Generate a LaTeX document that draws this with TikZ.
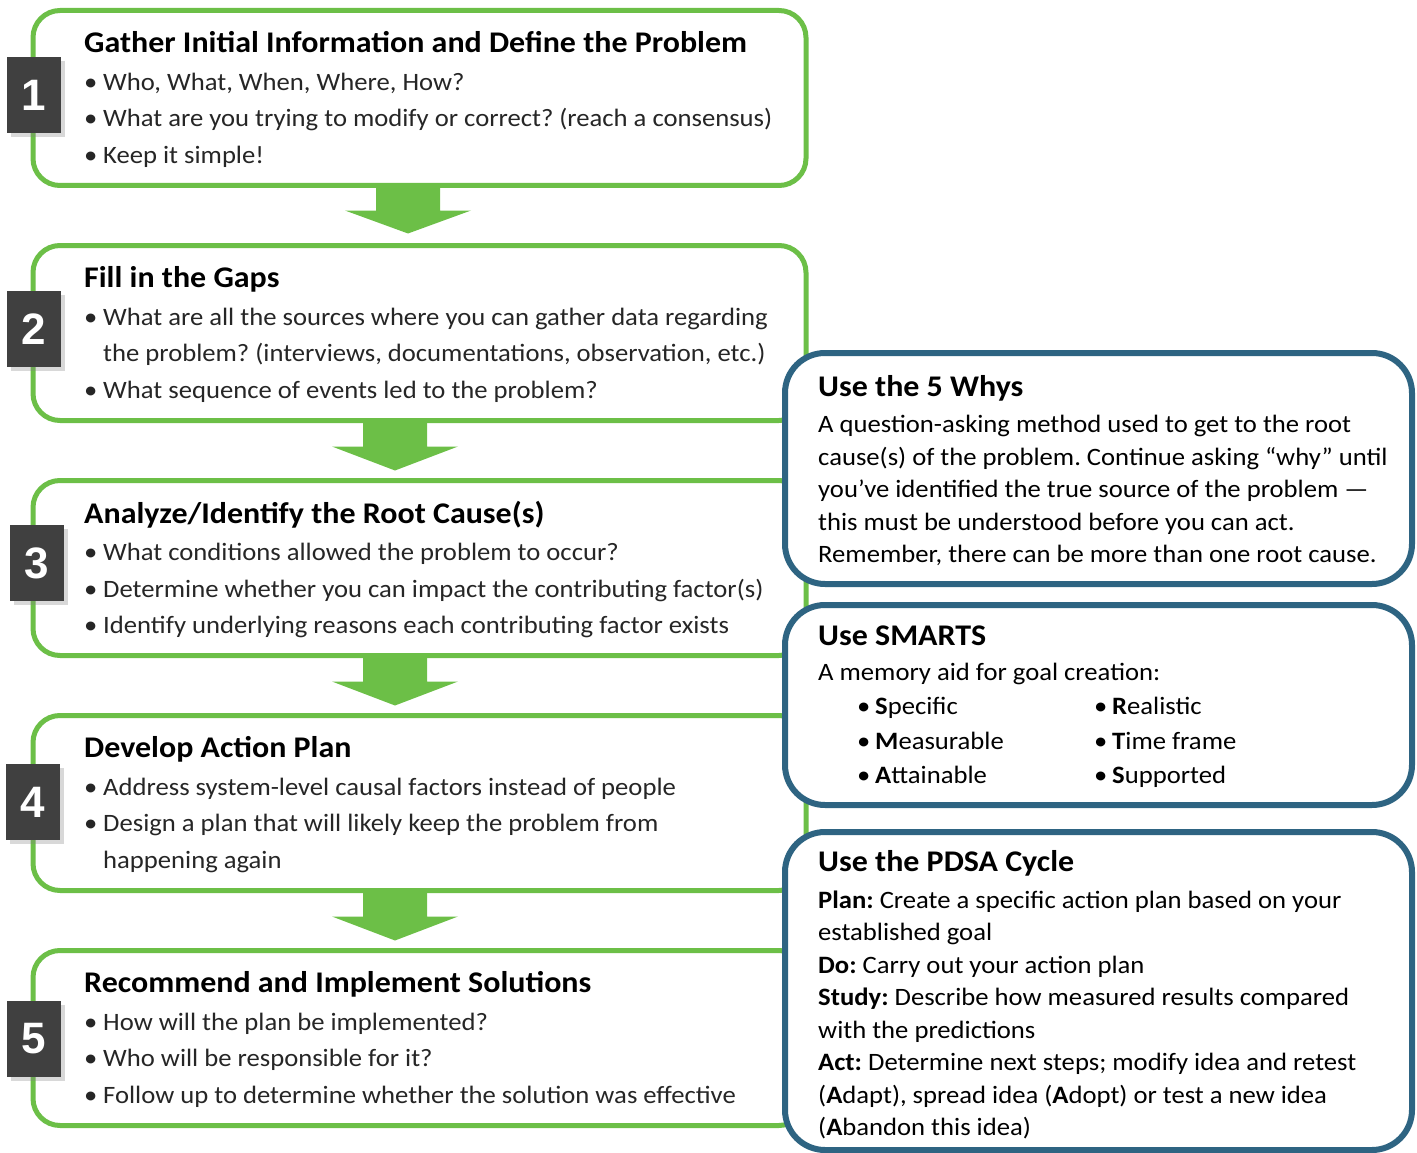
\documentclass[tikz,border=0pt]{standalone}
\usepackage{fontspec}
\setmainfont{Carlito}[FakeStretch=1.066]
\newfontfamily\numfont{Liberation Sans}
\usepackage{tikz}
\usetikzlibrary{positioning,shadows}
\frenchspacing

\definecolor{stepgreen}{HTML}{6CBF47}
\definecolor{tipblue}{HTML}{2E6482}
\definecolor{numgray}{HTML}{404040}
\definecolor{bodygray}{HTML}{262626}

\newcommand{\steptitle}[1]{{\color{black}\bfseries\fontsize{30}{36.5}\selectfont #1}}
\newcommand{\tiptitle}[1]{{\bfseries\fontsize{30}{32.5}\selectfont #1}}
\newcommand{\bul}{\makebox[19pt][l]{\textbullet}}
\newcommand{\sbul}{\makebox[18pt][l]{\textbullet}}

\begin{document}
\begin{tikzpicture}[x=1pt,y=1pt,node distance=235pt,
    step node/.style={draw=stepgreen,line width=5pt,fill=white,rounded corners=27pt,
                      minimum width=773pt,minimum height=175pt,inner sep=0pt,outer sep=0pt},
    num node/.style={fill=numgray,text=white,minimum width=54pt,minimum height=76pt,
                     inner sep=0pt,font=\numfont\bfseries\fontsize{44}{44}\selectfont,
                     drop shadow={shadow xshift=4pt,shadow yshift=-4pt,opacity=0.3}},
    step text/.style={anchor=west,align=left,inner sep=0pt,text=bodygray,
                      font=\fontsize{25}{36.5}\selectfont},
    tip node/.style={draw=tipblue,line width=6pt,fill=white,rounded corners=40pt,
                     minimum width=627pt,inner sep=0pt,outer sep=0pt},
    tip text/.style={anchor=west,align=left,inner sep=0pt,text=black,
                     font=\fontsize{25}{32.5}\selectfont}]

  \useasboundingbox (0,0) rectangle (1417,-1153);

  %Steps%
  \node[step node] (1) at (419.5,-98) {};
  \node[step node] (2) [below of=1] {};
  \node[step node] (3) [below of=2] {};
  \node[step node] (4) [below of=3] {};
  \node[step node] (5) [below of=4] {};

  \node[step text] (t1) at ([xshift=51pt,yshift=-1.5pt]1.west) {\steptitle{Gather Initial Information and Define the Problem}\\[1pt]
    \bul Who, What, When, Where, How?\\
    \bul What are you trying to modify or correct? (reach a consensus)\\
    \bul Keep it simple!};
  \node[step text] (t2) at ([xshift=51pt,yshift=-1.5pt]2.west) {\steptitle{Fill in the Gaps}\\[1pt]
    \bul What are all the sources where you can gather data regarding\\
    \hspace*{19pt}the problem? (interviews, documentations, observation, etc.)\\
    \bul What sequence of events led to the problem?};
  \node[step text] (t3) at ([xshift=51pt,yshift=-1.5pt]3.west) {\steptitle{Analyze/Identify the Root Cause(s)}\\[1pt]
    \bul What conditions allowed the problem to occur?\\
    \bul Determine whether you can impact the contributing factor(s)\\
    \bul Identify underlying reasons each contributing factor exists};
  \node[step text] (t4) at ([xshift=51pt,yshift=-1.5pt]4.west) {\steptitle{Develop Action Plan}\\[1pt]
    \bul Address system-level causal factors instead of people\\
    \bul Design a plan that will likely keep the problem from\\
    \hspace*{19pt}happening again};
  \node[step text] (t5) at ([xshift=51pt,yshift=-1.5pt]5.west) {\steptitle{Recommend and Implement Solutions}\\[1pt]
    \bul How will the plan be implemented?\\
    \bul Who will be responsible for it?\\
    \bul Follow up to determine whether the solution was effective};

  %Arrows%
  \fill[stepgreen] ([xshift=-43.5pt]1.south) -- ++(64,0) -- ++(0,-25) -- ++(31,0)
    -- ++(-63,-23) -- ++(-63,23) -- ++(31,0) -- cycle;
  \fill[stepgreen] ([xshift=-56.5pt]2.south) -- ++(64,0) -- ++(0,-26) -- ++(31,0)
    -- ++(-63,-24) -- ++(-63,24) -- ++(31,0) -- cycle;
  \fill[stepgreen] ([xshift=-56.5pt]3.south) -- ++(64,0) -- ++(0,-26) -- ++(31,0)
    -- ++(-63,-24) -- ++(-63,24) -- ++(31,0) -- cycle;
  \fill[stepgreen] ([xshift=-56.5pt]4.south) -- ++(64,0) -- ++(0,-26) -- ++(31,0)
    -- ++(-63,-24) -- ++(-63,24) -- ++(31,0) -- cycle;

  %Numbers%
  \node[num node] (n1) at ([xshift=1pt,yshift=3pt]1.west) {1};
  \node[num node] (n2) at ([xshift=1pt,yshift=4pt]2.west) {2};
  \node[num node] (n3) at ([xshift=4pt,yshift=5pt]3.west) {3};
  \node[num node] (n4) at ([xshift=0pt,yshift=1pt]4.west) {4};
  \node[num node] (n5) at ([xshift=1pt,yshift=-1pt]5.west) {5};

  %Tips%
  \node[tip node,minimum height=231pt] (a) at (1098.5,-468.5) {};
  \node[tip node,minimum height=200pt] (b) [below=21pt of a] {};
  \node[tip node,minimum height=318pt] (c) [below=27pt of b] {};

  \node[tip text] (ta) at ([xshift=33pt,yshift=-2pt]a.west) {\tiptitle{Use the 5 Whys}\\[4pt]
    A question-asking method used to get to the root\\
    cause(s) of the problem. Continue asking “why” until\\
    you’ve identified the true source of the problem —\\
    this must be understood before you can act.\\
    Remember, there can be more than one root cause.};
  \node[tip text,font=\fontsize{25}{34.5}\selectfont] (tb) at ([xshift=33pt,yshift=-2pt]b.west) {\tiptitle{Use SMARTS}\\
    A memory aid for goal creation:\\
    \hspace*{39pt}\makebox[237pt][l]{\sbul\textbf{S}pecific}\sbul\textbf{R}ealistic\\
    \hspace*{39pt}\makebox[237pt][l]{\sbul\textbf{M}easurable}\sbul\textbf{T}ime frame\\
    \hspace*{39pt}\makebox[237pt][l]{\sbul\textbf{A}ttainable}\sbul\textbf{S}upported};
  \node[tip text] (tc) at ([xshift=33pt,yshift=-4pt]c.west) {\tiptitle{Use the PDSA Cycle}\\[4pt]
    \textbf{Plan:} Create a specific action plan based on your\\
    established goal\\
    \textbf{Do:} Carry out your action plan\\
    \textbf{Study:} Describe how measured results compared\\
    with the predictions\\
    \textbf{Act:} Determine next steps; modify idea and retest\\
    (\textbf{A}dapt), spread idea (\textbf{A}dopt) or test a new idea\\
    (\textbf{A}bandon this idea)};
\end{tikzpicture}
\end{document}
